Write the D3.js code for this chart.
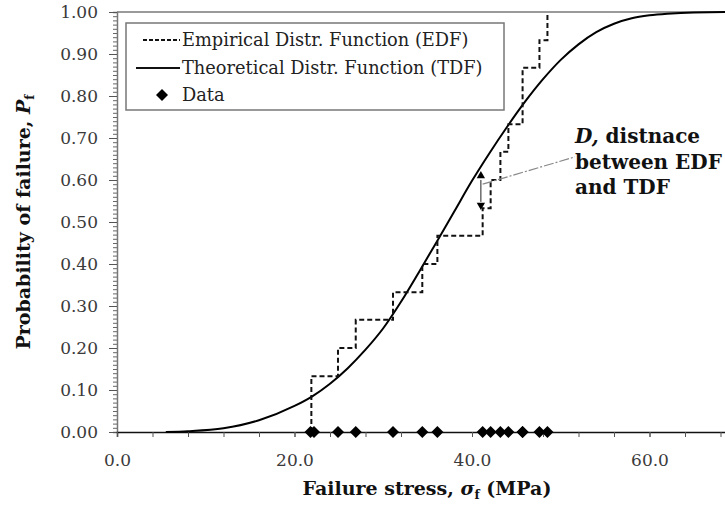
<!DOCTYPE html>
<html>
<head>
<meta charset="utf-8">
<script src="https://cdn.jsdelivr.net/npm/d3@7"></script>
<style>
  body { margin: 0; background: #fff; }
  svg { display: block; }
  text { font-family: "DejaVu Serif", serif; }
</style>
</head>
<body>
<div id="chart"></div>
<script>
// failure stresses of the specimens (MPa)
var dataStress = [21.8, 22.2, 24.9, 26.9, 31.1, 34.4, 36.1, 41.2, 42.1, 43.2, 44.1, 45.7, 45.7, 47.6, 48.5];

// empirical distribution function, read as steps
var edfX = [21.9, 24.9, 26.9, 31.1, 34.4, 36.1, 41.2, 42.1, 43.2, 44.1, 45.7, 47.6, 48.5];
var edfP = [0.133, 0.200, 0.267, 0.333, 0.400, 0.467, 0.533, 0.600, 0.667, 0.733, 0.867, 0.933, 1.000];

// theoretical distribution function
var tdfX = [5.5, 8, 12, 16, 20, 22, 24, 26, 28, 30, 32, 34, 36, 38, 40, 42, 44, 46, 48, 50, 52, 54, 56, 58, 60, 62, 65, 70];
var tdfP = [0, 0.002, 0.009, 0.028, 0.062, 0.085, 0.115, 0.152, 0.196, 0.247, 0.31, 0.38, 0.452, 0.525, 0.598, 0.665, 0.728, 0.787, 0.84, 0.886, 0.923, 0.952, 0.972, 0.985, 0.992, 0.996, 0.999, 1.0];

var xTicks = [0, 20, 40, 60];
var yTicks = [0, 0.1, 0.2, 0.3, 0.4, 0.5, 0.6, 0.7, 0.8, 0.9, 1.0];

var legendLabels = ["Empirical Distr. Function (EDF)", "Theoretical Distr. Function (TDF)", "Data"];

var width = 725, height = 507;

var svg = d3.select("#chart").append("svg")
    .attr("width", width)
    .attr("height", height);

var x = d3.scaleLinear().domain([0, 70]).range([117, 117 + 70 * 8.875]);
var y = d3.scaleLinear().domain([0, 1]).range([432, 12]);

// top border of plot area
svg.append("line")
    .attr("x1", x(0)).attr("x2", width)
    .attr("y1", y(1)).attr("y2", y(1))
    .attr("stroke", "#9a9a9a").attr("stroke-width", 2);

// y axis: minor then major
svg.append("g")
    .attr("transform", `translate(${x(0)},0)`)
    .call(d3.axisLeft(y).tickValues(d3.range(0, 1.0001, 0.01)).tickSize(4).tickFormat(""))
    .call(g => g.select(".domain").attr("stroke", "#777").attr("stroke-width", 1.5))
    .call(g => g.selectAll(".tick line").attr("stroke", "#666"));

svg.append("g")
    .attr("transform", `translate(${x(0)},0)`)
    .call(d3.axisLeft(y).tickValues(yTicks).tickSize(8).tickPadding(11).tickFormat(d3.format(".2f")))
    .call(g => g.select(".domain").remove())
    .call(g => g.selectAll(".tick line").attr("stroke", "#555"))
    .call(g => g.selectAll(".tick text")
        .attr("font-family", "DejaVu Serif").attr("font-size", 17).attr("fill", "#3a3a3a"));

// x axis
svg.append("g")
    .attr("transform", `translate(0,${y(0)})`)
    .call(d3.axisBottom(x).tickValues(d3.range(0, 70.001, 4)).tickSize(5).tickFormat(""))
    .call(g => g.select(".domain").attr("stroke", "#111").attr("stroke-width", 1.5))
    .call(g => g.selectAll(".tick line").attr("stroke", "#555"));

svg.append("g")
    .attr("transform", `translate(0,${y(0)})`)
    .call(d3.axisBottom(x).tickValues(xTicks).tickSize(5).tickPadding(17).tickFormat(d3.format(".1f")))
    .call(g => g.select(".domain").remove())
    .call(g => g.selectAll(".tick line").attr("stroke", "#555"))
    .call(g => g.selectAll(".tick text")
        .attr("font-family", "DejaVu Serif").attr("font-size", 17).attr("fill", "#3a3a3a"));

// theoretical curve
var line = d3.line()
    .x((d, i) => x(tdfX[i]))
    .y(d => y(d))
    .curve(d3.curveMonotoneX);

svg.append("path")
    .attr("d", line(tdfP))
    .attr("fill", "none")
    .attr("stroke", "#000")
    .attr("stroke-width", 2);

// empirical step function
var edfPts = [[edfX[0], 0]].concat(edfX.map((v, i) => [v, edfP[i]]));
var step = d3.line()
    .x(d => x(d[0]))
    .y(d => y(d[1]))
    .curve(d3.curveStepAfter);

svg.append("path")
    .attr("d", step(edfPts))
    .attr("fill", "none")
    .attr("stroke", "#111")
    .attr("stroke-width", 2)
    .attr("stroke-dasharray", "5,3");

// data diamonds
var diamond = d3.symbol().type(d3.symbolSquare).size(72);
svg.append("g")
    .selectAll("path")
    .data(dataStress)
    .join("path")
    .attr("d", diamond)
    .attr("transform", d => `translate(${x(d)},${y(0)}) rotate(45)`)
    .attr("fill", "#000");

// D annotation: double arrow between EDF and TDF
var arrX = 41.0;
svg.append("line")
    .attr("x1", x(arrX)).attr("x2", x(arrX))
    .attr("y1", y(0.6)).attr("y2", y(0.548))
    .attr("stroke", "#222").attr("stroke-width", 1);
var tri = d3.symbol().type(d3.symbolTriangle).size(30);
svg.append("path").attr("d", tri)
    .attr("transform", `translate(${x(arrX)},${y(0.61)})`).attr("fill", "#000");
svg.append("path").attr("d", tri)
    .attr("transform", `translate(${x(arrX)},${y(0.54)}) rotate(180)`).attr("fill", "#000");

// leader line to label
svg.append("line")
    .attr("x1", x(41.2)).attr("x2", x(51.6))
    .attr("y1", y(0.59)).attr("y2", y(0.655))
    .attr("stroke", "#888").attr("stroke-width", 1.2)
    .attr("stroke-dasharray", "10,2,2,2");

var ann = svg.append("text")
    .attr("x", 575).attr("y", 143)
    .attr("font-size", 20).attr("font-weight", "bold").attr("fill", "#111");
ann.append("tspan").attr("font-style", "italic").text("D,");
ann.append("tspan").text(" distnace");
svg.append("text").attr("x", 575).attr("y", 169)
    .attr("font-size", 20).attr("font-weight", "bold").attr("fill", "#111")
    .text("between EDF");
svg.append("text").attr("x", 575).attr("y", 194)
    .attr("font-size", 20).attr("font-weight", "bold").attr("fill", "#111")
    .text("and TDF");

// legend
var lg = svg.append("g");
lg.append("rect")
    .attr("x", 126).attr("y", 23).attr("width", 378).attr("height", 87)
    .attr("fill", "#fff").attr("stroke", "#777").attr("stroke-width", 1.5);
lg.append("line").attr("x1", 143).attr("x2", 180).attr("y1", 40).attr("y2", 40)
    .attr("stroke", "#111").attr("stroke-width", 2).attr("stroke-dasharray", "4,2");
lg.append("line").attr("x1", 136).attr("x2", 180).attr("y1", 68).attr("y2", 68)
    .attr("stroke", "#111").attr("stroke-width", 2);
lg.append("path").attr("d", diamond)
    .attr("transform", "translate(162,95) rotate(45)").attr("fill", "#000");
lg.selectAll("text.lab")
    .data(legendLabels)
    .join("text")
    .attr("class", "lab")
    .attr("x", 182)
    .attr("y", (d, i) => 46 + i * 27.5)
    .attr("font-size", 17.8)
    .attr("fill", "#222")
    .text(d => d);

// axis titles
var xt = svg.append("text")
    .attr("x", 427).attr("y", 495)
    .attr("text-anchor", "middle")
    .attr("font-size", 19).attr("font-weight", "bold").attr("fill", "#111");
xt.append("tspan").text("Failure stress, ");
xt.append("tspan").attr("font-style", "italic").text("σ");
xt.append("tspan").attr("font-size", 12).attr("dy", 4).text("f");
xt.append("tspan").attr("dy", -4).text(" (MPa)");

var yt = svg.append("text")
    .attr("transform", "translate(30,222) rotate(-90)")
    .attr("text-anchor", "middle")
    .attr("font-size", 19).attr("font-weight", "bold").attr("fill", "#111");
yt.append("tspan").text("Probability of failure, ");
yt.append("tspan").attr("font-style", "italic").text("P");
yt.append("tspan").attr("font-size", 12).attr("dy", 4).text("f");
</script>
</body>
</html>
